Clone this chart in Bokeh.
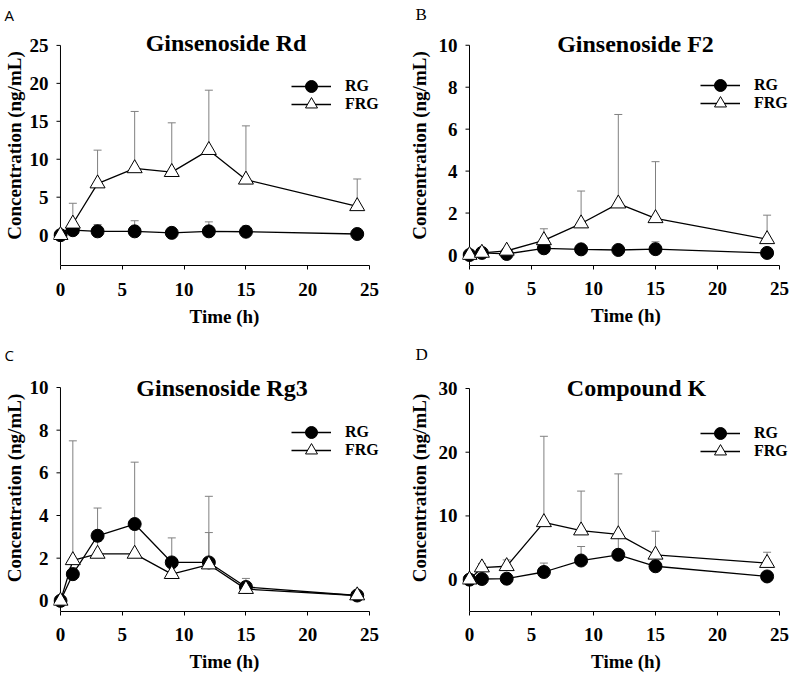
from bokeh.plotting import figure
from bokeh.models import (Range1d, FixedTicker, Label, Legend, LegendItem,
                          Whisker, TeeHead, ColumnDataSource)
from bokeh.layouts import column, row
from bokeh.embed import file_html
from bokeh.resources import INLINE

# ---------------- data ----------------
time_h = [0, 1, 3, 6, 9, 12, 15, 24]
x_ticks = [0, 5, 10, 15, 20, 25]

rd_rg_mean = [0, 0.65, 0.5, 0.5, 0.3, 0.5, 0.45, 0.15]
rd_rg_sd = [0, 0.5, 0.9, 1.4, 0.3, 1.25, 0.75, 0.1]
rd_frg_mean = [0, 1.5, 6.8, 8.8, 8.3, 11.2, 7.3, 3.8]
rd_frg_sd = [0, 2.7, 4.4, 7.5, 6.5, 7.9, 7.1, 3.6]
rd_yticks = [0, 5, 10, 15, 20, 25]

f2_rg_mean = [0, 0.1, 0.05, 0.32, 0.27, 0.24, 0.28, 0.1]
f2_rg_sd = [0, 0.05, 0.05, 0.1, 0.1, 0.1, 0.35, 0.05]
f2_frg_mean = [0, 0.1, 0.2, 0.7, 1.5, 2.45, 1.75, 0.75]
f2_frg_sd = [0, 0.05, 0.1, 0.55, 1.55, 4.25, 2.7, 1.15]
f2_yticks = [0, 2, 4, 6, 8, 10]

rg3_rg_mean = [0, 1.25, 3.05, 3.6, 1.8, 1.8, 0.65, 0.25]
rg3_rg_sd = [0, 0.3, 1.3, 0.2, 1.15, 3.1, 0.4, 0.15]
rg3_frg_mean = [0, 1.9, 2.2, 2.2, 1.25, 1.7, 0.55, 0.25]
rg3_frg_sd = [0, 5.6, 0.6, 4.3, 0.3, 1.5, 0.3, 0.15]
rg3_yticks = [0, 2, 4, 6, 8, 10]

ck_rg_mean = [0, 0.1, 0.15, 1.2, 3.0, 3.9, 2.1, 0.5]
ck_rg_sd = [0, 0.1, 0.1, 1.4, 2.2, 3.0, 0.8, 0.3]
ck_frg_mean = [0, 1.9, 2.1, 9.0, 7.7, 7.1, 3.9, 2.6]
ck_frg_sd = [0, 0.6, 1.0, 13.5, 6.2, 9.5, 3.7, 1.7]
ck_yticks = [0, 10, 20, 30]

series_names = ["RG", "FRG"]

SERIF = "Liberation Serif"
ERR = "#808080"


def panel(letter, letter_font, letter_size, letter_standoff, title, rg_m, rg_s,
          frg_m, frg_s, yticks, ymin, canvas, x0px, x25px, frame_lr, frame_tb,
          ymax_px, title_pos, letter_x, legend_pos, ylab_standoff,
          xlab_standoffs):
    ox, oy, W, H = canvas
    fl, fr = frame_lr
    ft, fb = frame_tb
    ymax = yticks[-1]
    sx = (x25px - x0px) / 25.0
    x_start = (fl - x0px) / sx
    x_end = 25 + (fr - x25px) / sx
    sy = (fb - ymax_px) / (ymax - ymin)
    y_end = ymax + (ymax_px - ft) / sy

    def dx(px):
        return x_start + (px - fl) / sx

    def dy(py):
        return ymin + (fb - py) / sy

    p = figure(width=W, height=H, x_range=Range1d(x_start, x_end),
               y_range=Range1d(ymin, y_end), output_backend="svg",
               toolbar_location=None,
               min_border_left=fl - ox, min_border_right=ox + W - fr,
               min_border_top=ft - oy, min_border_bottom=oy + H - fb)
    p.outline_line_color = None
    p.xgrid.visible = False
    p.ygrid.visible = False
    p.background_fill_color = "white"
    p.border_fill_color = "white"

    # panel letter as the figure title
    p.title.text = letter
    p.title.align = "left"
    p.title.offset = letter_x - fl
    p.title.standoff = letter_standoff
    p.title.text_font = letter_font
    p.title.text_font_style = "normal"
    p.title.text_font_size = letter_size
    p.title.text_color = "black"

    for ax in (p.xaxis, p.yaxis):
        ax.major_tick_line_color = "black"
        ax.major_tick_in = 0
        ax.minor_tick_line_color = None
        ax.major_label_text_font = SERIF
        ax.major_label_text_font_style = "bold"
        ax.major_label_text_font_size = "19px"
        ax.major_label_text_color = "black"
        ax.axis_label_text_font = SERIF
        ax.axis_label_text_font_style = "bold"
        ax.axis_label_text_font_size = "19px"
        ax.axis_label_text_color = "black"

    p.xaxis.ticker = FixedTicker(ticks=x_ticks)
    p.xaxis.bounds = (0, 25)
    p.xaxis.axis_line_color = "black"
    p.xaxis.major_tick_out = 4
    p.xaxis.major_label_standoff = xlab_standoffs[0]
    p.xaxis.axis_label = "Time (h)"
    p.xaxis.axis_label_standoff = xlab_standoffs[1]

    # y axis: labels from the library's axis, line + ticks drawn at x = 0
    p.yaxis.ticker = FixedTicker(ticks=yticks)
    p.yaxis.axis_line_color = None
    p.yaxis.major_tick_out = 0
    p.yaxis.major_label_standoff = 5
    p.yaxis.axis_label = "Concentration (ng/mL)"
    p.yaxis.axis_label_standoff = ylab_standoff

    p.segment(x0=[0], y0=[ymin], x1=[0], y1=[ymax], line_color="black",
              line_width=1)
    tick_len = 4 / sx
    p.segment(x0=[-tick_len] * len(yticks), y0=yticks, x1=[0] * len(yticks),
              y1=yticks, line_color="black", line_width=1)

    # error bars (upper only)
    for m, s in ((rg_m, rg_s), (frg_m, frg_s)):
        src = ColumnDataSource(dict(t=time_h, mean=m,
                                    up=[a + b for a, b in zip(m, s)]))
        w = Whisker(source=src, base="t", upper="up", lower="mean",
                    dimension="height", line_color=ERR, line_width=1,
                    upper_head=TeeHead(size=8, line_color=ERR, line_width=1),
                    lower_head=None, level="underlay")
        p.add_layout(w)

    l1 = p.line(time_h, rg_m, line_color="black", line_width=1.3)
    s1 = p.scatter(time_h, rg_m, marker="circle", size=13,
                   fill_color="black", line_color="black")
    l2 = p.line(time_h, frg_m, line_color="black", line_width=1.3)
    s2 = p.scatter(time_h, frg_m, marker="triangle", size=15,
                   fill_color="white", line_color="black", line_width=1)

    # legend: one box per entry (glyph 40 px wide, rows 18 px apart)
    lx, ly_center = legend_pos
    for i, (name, rs) in enumerate(zip(series_names, ([l1, s1], [l2, s2]))):
        cy = ly_center + 18 * i
        leg = Legend(items=[LegendItem(label=name, renderers=rs)],
                     location=(lx - fl, fb - (cy + 15)),
                     glyph_width=40, glyph_height=30, label_height=30,
                     spacing=0, padding=0, margin=0, label_standoff=14,
                     border_line_color=None, background_fill_alpha=0,
                     label_text_font=SERIF, label_text_font_style="bold",
                     label_text_font_size="16px", label_text_color="black")
        p.add_layout(leg)

    tx, tb = title_pos
    p.add_layout(Label(x=dx(tx), y=dy(tb - 10), text=title,
                       text_align="center", text_baseline="middle",
                       text_font=SERIF, text_font_style="bold",
                       text_font_size="24px", text_color="black"))
    return p


pA = panel("A", "Open Sans", "15px", 2, "Ginsenoside Rd", rd_rg_mean,
           rd_rg_sd, rd_frg_mean, rd_frg_sd, rd_yticks, -4,
           canvas=(0, 0, 395, 335), x0px=59, x25px=369, frame_lr=(52, 395),
           frame_tb=(24, 265), ymax_px=44, title_pos=(225, 52),
           letter_x=3, legend_pos=(290, 86), ylab_standoff=2,
           xlab_standoffs=(13, 7))
pB = panel("B", SERIF, "17px", 4, "Ginsenoside F2", f2_rg_mean, f2_rg_sd,
           f2_frg_mean, f2_frg_sd, f2_yticks, -0.5,
           canvas=(395, 0, 394, 335), x0px=469, x25px=779, frame_lr=(462, 789),
           frame_tb=(24, 267), ymax_px=44, title_pos=(635, 53),
           letter_x=415, legend_pos=(700, 87), ylab_standoff=6,
           xlab_standoffs=(12, 7))
pC = panel("C", "Open Sans", "15px", 0, "Ginsenoside Rg3", rg3_rg_mean,
           rg3_rg_sd, rg3_frg_mean, rg3_frg_sd, rg3_yticks, -0.5,
           canvas=(0, 335, 395, 341), x0px=59, x25px=369, frame_lr=(52, 395),
           frame_tb=(364, 611), ymax_px=387, title_pos=(221, 397),
           letter_x=3, legend_pos=(290, 432), ylab_standoff=2,
           xlab_standoffs=(12, 7))
pD = panel("D", SERIF, "17px", 2, "Compound K", ck_rg_mean, ck_rg_sd,
           ck_frg_mean, ck_frg_sd, ck_yticks, -5,
           canvas=(395, 335, 394, 341), x0px=469, x25px=779, frame_lr=(462, 789),
           frame_tb=(364, 611), ymax_px=388, title_pos=(636, 397),
           letter_x=415, legend_pos=(700, 433), ylab_standoff=6,
           xlab_standoffs=(12, 7))

layout = column(row(pA, pB), row(pC, pD))
open("out.html", "w").write(file_html(layout, INLINE))
